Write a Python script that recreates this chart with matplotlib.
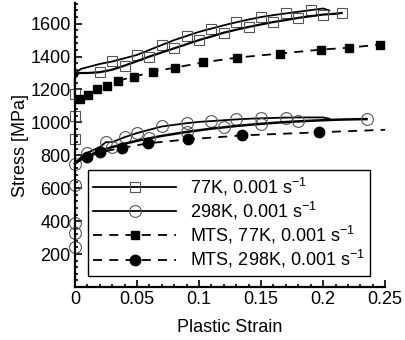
import numpy as np
import matplotlib
matplotlib.use('Agg')
import matplotlib.pyplot as plt
from matplotlib.ticker import MultipleLocator

plt.rcParams['font.family'] = ['Liberation Sans', 'DejaVu Sans']

# 77K, 0.001 1/s -- two test curves (elastic part at strain 0, then plastic flow)
k77a_x = [0, 0, 0, 0.002, 0.005, 0.01, 0.02, 0.03, 0.04, 0.05, 0.06, 0.07, 0.08, 0.09, 0.10, 0.11,
          0.12, 0.13, 0.14, 0.15, 0.16, 0.17, 0.18, 0.19, 0.20, 0.205]
k77a_y = [900, 1040, 1270, 1310, 1325, 1335, 1355, 1370, 1390, 1410, 1440, 1470, 1500, 1525, 1550, 1570,
          1590, 1608, 1625, 1640, 1652, 1662, 1672, 1682, 1692, 1680]
k77a_mk = [0, 1, 7, 9, 11, 13, 15, 17, 19, 21, 23]

k77b_x = [0, 0, 0.003, 0.01, 0.02, 0.03, 0.04, 0.05, 0.06, 0.07, 0.08, 0.09, 0.10, 0.11, 0.12,
          0.13, 0.14, 0.15, 0.16, 0.17, 0.18, 0.19, 0.20, 0.21, 0.215]
k77b_y = [1170, 1270, 1300, 1300, 1305, 1320, 1345, 1372, 1400, 1425, 1450, 1475, 1500, 1522, 1545,
          1563, 1580, 1595, 1610, 1622, 1635, 1645, 1655, 1660, 1665]
k77b_mk = [0, 4, 6, 8, 10, 12, 14, 16, 18, 20, 22, 24]

# 298K, 0.001 1/s
k298a_x = [0, 0, 0, 0, 0, 0.005, 0.01, 0.02, 0.025, 0.03, 0.04, 0.05, 0.06, 0.07, 0.08, 0.09, 0.10,
           0.11, 0.12, 0.13, 0.14, 0.15, 0.16, 0.17, 0.18, 0.19, 0.20, 0.205]
k298a_y = [245, 330, 390, 620, 750, 790, 815, 850, 880, 880, 910, 935, 955, 975, 985, 995, 1003,
           1008, 1013, 1018, 1022, 1025, 1027, 1029, 1030, 1030, 1030, 1022]
k298a_mk = [0, 1, 2, 3, 6, 8, 10, 11, 13, 15, 17, 19, 21, 23]

k298b_x = [0, 0, 0.005, 0.01, 0.02, 0.03, 0.04, 0.05, 0.06, 0.07, 0.08, 0.09, 0.10, 0.11, 0.12,
           0.13, 0.14, 0.15, 0.16, 0.17, 0.18, 0.19, 0.20, 0.21, 0.22, 0.235]
k298b_y = [750, 750, 775, 795, 825, 850, 870, 888, 903, 918, 930, 942, 952, 962, 970,
           978, 985, 991, 997, 1002, 1006, 1010, 1013, 1016, 1018, 1020]
k298b_mk = [1, 5, 8, 11, 14, 17, 20, 25]

# MTS model, 77K
mts77_x = [0, 0.004, 0.0105, 0.018, 0.026, 0.035, 0.048, 0.063, 0.081, 0.103, 0.131, 0.165, 0.198,
           0.221, 0.246, 0.25]
mts77_y = [1120, 1145, 1165, 1200, 1224, 1254, 1278, 1309, 1333, 1364, 1394, 1418, 1442, 1454, 1473, 1475]

# MTS model, 298K
mts298_x = [0, 0.01, 0.02, 0.038, 0.059, 0.091, 0.135, 0.197, 0.25]
mts298_y = [760, 790, 818, 845, 873, 897, 921, 940, 955]

labels = [r'77K, 0.001 s$^{\mathregular{-1}}$', r'298K, 0.001 s$^{\mathregular{-1}}$',
          r'MTS, 77K, 0.001 s$^{\mathregular{-1}}$', r'MTS, 298K, 0.001 s$^{\mathregular{-1}}$']

fig = plt.figure(figsize=(4.05, 3.40), dpi=100)
ax = fig.add_axes([0.185, 0.156, 0.766, 0.835])

sq = dict(marker='s', markersize=6.5, markerfacecolor='none', markeredgecolor='#555555',
          markeredgewidth=0.8)
ci = dict(marker='o', markersize=8.5, markerfacecolor='none', markeredgecolor='#555555',
          markeredgewidth=0.8)

l1, = ax.plot(k77a_x, k77a_y, color='black', lw=1.3, markevery=k77a_mk, clip_on=False, **sq)
ax.plot(k77b_x, k77b_y, color='black', lw=1.6, markevery=k77b_mk, clip_on=False, **sq)
l2, = ax.plot(k298a_x, k298a_y, color='black', lw=1.3, markevery=k298a_mk, clip_on=False, **ci)
ax.plot(k298b_x, k298b_y, color='black', lw=1.8, markevery=k298b_mk, clip_on=False, **ci)
l3, = ax.plot(mts77_x, mts77_y, color='black', lw=1.3, ls=(0, (5, 4)), marker='s', markersize=5.5,
              markevery=list(range(1, 15)), clip_on=False)
l4, = ax.plot(mts298_x, mts298_y, color='black', lw=1.3, ls=(0, (5, 4)), marker='o', markersize=7.5,
              markevery=list(range(1, 8)), clip_on=False)

ax.set_xlim(0, 0.25)
ax.set_ylim(0, 1725)
ax.set_yticks([200, 400, 600, 800, 1000, 1200, 1400, 1600])
ax.set_xticks([0, 0.05, 0.1, 0.15, 0.2, 0.25])
ax.set_xticklabels(['0', '0.05', '0.1', '0.15', '0.2', '0.25'])
ax.xaxis.set_minor_locator(MultipleLocator(0.01))
ax.yaxis.set_minor_locator(MultipleLocator(40))
ax.tick_params(which='both', direction='in', labelsize=13, width=1.2)
ax.tick_params(which='major', length=5, pad=3)
ax.tick_params(which='minor', length=2.5)
ax.spines['top'].set_visible(False)
ax.spines['right'].set_visible(False)
for s in ('left', 'bottom'):
    ax.spines[s].set_linewidth(1.6)

ax.set_xlabel('Plastic Strain', fontsize=13, labelpad=8)
ax.set_ylabel('Stress [MPa]', fontsize=13, labelpad=1)

leg = ax.legend([l1, l2, l3, l4], labels, loc='lower left', bbox_to_anchor=(0.042, 0.039),
                borderaxespad=0, fontsize=13, handlelength=4.6, handletextpad=0.75,
                labelspacing=0.12, fancybox=False, edgecolor='black', framealpha=1,
                borderpad=0.3)
leg.get_frame().set_linewidth(1.0)

fig.savefig('out.png', dpi=100)
